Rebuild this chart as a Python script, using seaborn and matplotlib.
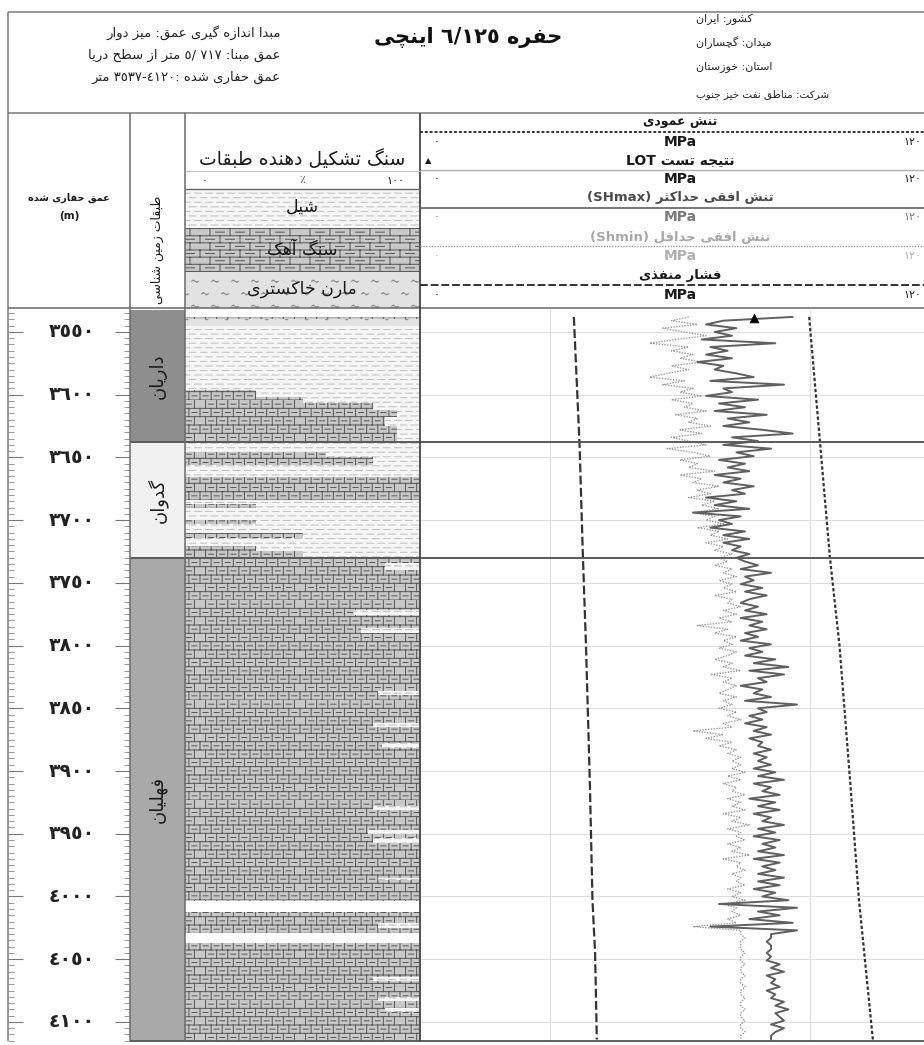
import re
import numpy as np
import matplotlib
matplotlib.use('Agg')
import matplotlib.pyplot as plt
import matplotlib.hatch as mhatch
import matplotlib.transforms as mtrans
from matplotlib.path import Path
from matplotlib.patches import Rectangle
from matplotlib.ticker import MultipleLocator
import seaborn as sns

# ---------------------------------------------------------------- data
depth_ticks = [3550, 3600, 3650, 3700, 3750, 3800, 3850, 3900, 3950, 4000, 4050, 4100]
depth_tick_labels = ['٣٥٥٠', '٣٦٠٠', '٣٦٥٠', '٣٧٠٠', '٣٧٥٠', '٣٨٠٠',
                     '٣٨٥٠', '٣٩٠٠', '٣٩٥٠', '٤٠٠٠', '٤٠٥٠', '٤١٠٠']
depth_top, depth_base = 3532.5, 4115.2

form_names = ['داریان', 'گدوان', 'فهلیان']
form_top = [3532.5, 3638, 3730]
form_base = [3638, 3730, 4115.2]
form_colors = ['#8e8e8e', '#f1f1f1', '#a9a9a9']

# lithology intervals: top, base, limestone %, shale %, marl %
lith_top = [3538, 3540, 3545, 3596, 3602, 3607, 3612, 3618, 3625,
            3638, 3646, 3650, 3656, 3666, 3684, 3687, 3690, 3700, 3703, 3710, 3714, 3721, 3725,
            3729, 3734, 3740, 3772, 3776, 3786, 3790, 3836, 3839, 3862, 3865, 3878, 3882,
            3928, 3931, 3947, 3950, 3953, 3957, 3985, 3987, 4012, 4021, 4025, 4037,
            4064, 4067, 4080, 4083, 4089, 4092]
lith_base = [3540, 3545, 3596, 3602, 3607, 3612, 3618, 3625, 3638,
             3646, 3650, 3656, 3666, 3684, 3687, 3690, 3700, 3703, 3710, 3714, 3721, 3725, 3729,
             3734, 3740, 3772, 3776, 3786, 3790, 3836, 3839, 3862, 3865, 3878, 3882, 3928,
             3931, 3947, 3950, 3953, 3957, 3985, 3987, 4004, 4021, 4025, 4029, 4064,
             4067, 4080, 4083, 4089, 4092, 4115.2]
lime_pct = [100, 0, 0, 30, 50, 80, 90, 85, 90,
            0, 60, 80, 0, 100, 0, 30, 0, 30, 0, 50, 0, 30, 50,
            100, 85, 100, 72, 100, 75, 100, 82, 100, 80, 100, 84, 100,
            80, 100, 78, 100, 80, 100, 82, 100, 100, 82, 100, 100,
            80, 100, 82, 100, 85, 100]
shale_pct = [0, 0, 100, 70, 50, 20, 10, 15, 10,
             100, 40, 20, 100, 0, 100, 70, 100, 70, 100, 50, 100, 70, 50,
             0, 15, 0, 28, 0, 25, 0, 18, 0, 20, 0, 16, 0,
             20, 0, 22, 0, 20, 0, 18, 0, 0, 18, 0, 0,
             20, 0, 18, 0, 15, 0]
marl_pct = [0, 100, 0, 0, 0, 0, 0, 0, 0,
            0, 0, 0, 0, 0, 0, 0, 0, 0, 0, 0, 0, 0, 0,
            0, 0, 0, 0, 0, 0, 0, 0, 0, 0, 0, 0, 0,
            0, 0, 0, 0, 0, 0, 0, 0, 0, 0, 0, 0,
            0, 0, 0, 0, 0, 0]

# stress logs sampled every 3 m from 3538 m
log_depth = np.arange(3538, 4115, 3)
shmax = [86, 70, 66, 73, 68, 72, 65, 82, 67, 71,
         66, 72, 64, 70, 68, 73, 77, 67, 84, 70,
         72, 66, 78, 69, 75, 68, 80, 71, 76, 70,
         79, 86, 72, 78, 70, 81, 73, 77, 69, 75,
         71, 76, 68, 74, 70, 77, 72, 75, 66, 73,
         68, 76, 63, 74, 69, 72, 67, 75, 70, 76,
         70, 74, 72, 76, 73, 75, 78, 74, 81, 75,
         77, 74, 79, 75, 80, 76, 74, 78, 75, 80,
         74, 79, 76, 80, 75, 78, 74, 81, 76, 79,
         75, 82, 77, 85, 76, 84, 78, 80, 74, 79,
         77, 81, 75, 87, 78, 80, 76, 79, 75, 80,
         77, 81, 76, 79, 78, 81, 77, 80, 78, 81,
         77, 82, 78, 84, 77, 81, 79, 83, 76, 82,
         78, 83, 77, 81, 79, 84, 78, 82, 77, 83,
         79, 82, 78, 84, 77, 83, 79, 82, 78, 84,
         78, 83, 77, 82, 79, 85, 69, 87, 78, 83,
         76, 86, 67, 87, 81, 81, 80, 81, 81, 80,
         81, 80, 83, 81, 84, 80, 82, 81, 83, 80,
         82, 81, 84, 82, 85, 82, 83, 84, 81, 84,
         82, 81, 81]
shmin = [62, 58, 64, 56, 61, 66, 59, 53, 62, 58,
         63, 60, 65, 58, 62, 57, 53, 61, 56, 63,
         60, 65, 58, 63, 61, 66, 59, 64, 62, 67,
         60, 65, 58, 62, 66, 57, 63, 67, 60, 64,
         62, 68, 60, 65, 63, 69, 64, 67, 62, 68,
         65, 69, 63, 68, 66, 70, 64, 69, 67, 71,
         66, 70, 68, 72, 69, 71, 68, 72, 70, 73,
         69, 72, 70, 73, 68, 72, 71, 74, 70, 73,
         69, 72, 64, 71, 68, 73, 70, 72, 69, 73,
         71, 68, 72, 70, 74, 67, 72, 70, 73, 71,
         69, 73, 70, 72, 69, 73, 71, 74, 70, 72,
         63, 70, 66, 72, 69, 73, 71, 74, 72, 74,
         72, 75, 71, 74, 70, 73, 72, 75, 71, 74,
         72, 75, 70, 74, 72, 76, 71, 74, 73, 75,
         71, 74, 72, 76, 70, 74, 73, 75, 72, 74,
         73, 75, 71, 74, 72, 75, 70, 73, 72, 74,
         71, 73, 63, 74, 74, 75, 74, 74, 74, 75,
         74, 74, 75, 74, 74, 75, 74, 74, 75, 74,
         74, 75, 74, 74, 75, 74, 74, 75, 74, 74,
         75, 74, 74]

sv_depth = [3538, 3638, 3730, 3800, 3910, 4003, 4114]
sv_value = [89.8, 92.3, 94.6, 96.8, 99.3, 101.3, 104.5]
pp_depth = [3538, 3638, 3730, 3800, 3910, 4003, 4045, 4114]
pp_value = [35.5, 36.8, 37.6, 38.3, 39.2, 39.8, 40.4, 40.8]
lot_depth = [3538.5]
lot_value = [77]

# ---------------------------------------------------------------- Persian text shaping
_F = {
    'ء': ('\uFE80', None, None, None), 'آ': ('\uFE81', '\uFE82', None, None),
    'أ': ('\uFE83', '\uFE84', None, None), 'ؤ': ('\uFE85', '\uFE86', None, None),
    'إ': ('\uFE87', '\uFE88', None, None), 'ئ': ('\uFE89', '\uFE8A', '\uFE8B', '\uFE8C'),
    'ا': ('\uFE8D', '\uFE8E', None, None), 'ب': ('\uFE8F', '\uFE90', '\uFE91', '\uFE92'),
    'ة': ('\uFE93', '\uFE94', None, None), 'ت': ('\uFE95', '\uFE96', '\uFE97', '\uFE98'),
    'ث': ('\uFE99', '\uFE9A', '\uFE9B', '\uFE9C'), 'ج': ('\uFE9D', '\uFE9E', '\uFE9F', '\uFEA0'),
    'ح': ('\uFEA1', '\uFEA2', '\uFEA3', '\uFEA4'), 'خ': ('\uFEA5', '\uFEA6', '\uFEA7', '\uFEA8'),
    'د': ('\uFEA9', '\uFEAA', None, None), 'ذ': ('\uFEAB', '\uFEAC', None, None),
    'ر': ('\uFEAD', '\uFEAE', None, None), 'ز': ('\uFEAF', '\uFEB0', None, None),
    'س': ('\uFEB1', '\uFEB2', '\uFEB3', '\uFEB4'), 'ش': ('\uFEB5', '\uFEB6', '\uFEB7', '\uFEB8'),
    'ص': ('\uFEB9', '\uFEBA', '\uFEBB', '\uFEBC'), 'ض': ('\uFEBD', '\uFEBE', '\uFEBF', '\uFEC0'),
    'ط': ('\uFEC1', '\uFEC2', '\uFEC3', '\uFEC4'), 'ظ': ('\uFEC5', '\uFEC6', '\uFEC7', '\uFEC8'),
    'ع': ('\uFEC9', '\uFECA', '\uFECB', '\uFECC'), 'غ': ('\uFECD', '\uFECE', '\uFECF', '\uFED0'),
    'ف': ('\uFED1', '\uFED2', '\uFED3', '\uFED4'), 'ق': ('\uFED5', '\uFED6', '\uFED7', '\uFED8'),
    'ك': ('\uFED9', '\uFEDA', '\uFEDB', '\uFEDC'), 'ل': ('\uFEDD', '\uFEDE', '\uFEDF', '\uFEE0'),
    'م': ('\uFEE1', '\uFEE2', '\uFEE3', '\uFEE4'), 'ن': ('\uFEE5', '\uFEE6', '\uFEE7', '\uFEE8'),
    'ه': ('\uFEE9', '\uFEEA', '\uFEEB', '\uFEEC'), 'و': ('\uFEED', '\uFEEE', None, None),
    'ى': ('\uFEEF', '\uFEF0', None, None), 'ي': ('\uFEF1', '\uFEF2', '\uFEF3', '\uFEF4'),
    'پ': ('\uFB56', '\uFB57', '\uFB58', '\uFB59'), 'چ': ('\uFB7A', '\uFB7B', '\uFB7C', '\uFB7D'),
    'ژ': ('\uFB8A', '\uFB8B', None, None), 'ک': ('\uFB8E', '\uFB8F', '\uFB90', '\uFB91'),
    'گ': ('\uFB92', '\uFB93', '\uFB94', '\uFB95'), 'ی': ('\uFBFC', '\uFBFD', '\uFBFE', '\uFBFF'),
}
_LAMALEF = {'ا': ('\uFEFB', '\uFEFC'), 'آ': ('\uFEF5', '\uFEF6'),
            'أ': ('\uFEF7', '\uFEF8'), 'إ': ('\uFEF9', '\uFEFA')}
_MIRROR = str.maketrans({'(': ')', ')': '(', '[': ']', ']': '['})
_LTR = re.compile(r'([0-9\u0660-\u0669\u06F0-\u06F9A-Za-z]'
                  r'(?:[0-9\u0660-\u0669\u06F0-\u06F9A-Za-z/.\-\s]*[0-9\u0660-\u0669\u06F0-\u06F9A-Za-z])?)')


def _dual(c):
    return c in _F and _F[c][2] is not None


def _shape(s):
    out, i, n = [], 0, len(s)
    while i < n:
        c = s[i]
        if c not in _F:
            out.append(c)
            i += 1
            continue
        pc = i > 0 and _dual(s[i - 1])
        if c == 'ل' and i + 1 < n and s[i + 1] in _LAMALEF:
            iso, fin = _LAMALEF[s[i + 1]]
            out.append(fin if pc else iso)
            i += 2
            continue
        nc = _dual(c) and i + 1 < n and s[i + 1] in _F
        iso, fin, ini, med = _F[c]
        if pc and nc:
            out.append(med)
        elif pc:
            out.append(fin or iso)
        elif nc:
            out.append(ini)
        else:
            out.append(iso)
        i += 1
    return ''.join(out)


def fa(s):
    parts = _LTR.split(_shape(s))
    vis = [p if k % 2 else p[::-1].translate(_MIRROR) for k, p in enumerate(parts)]
    return ''.join(vis[::-1])


# ---------------------------------------------------------------- custom hatches
class _Pattern(mhatch.HatchPatternBase):
    key = None

    def __init__(self, hatch, density):
        self.polys = self.build() if (hatch and self.key in hatch) else []
        self.num_vertices = sum(len(p) for p in self.polys)

    def set_vertices_and_codes(self, vertices, codes):
        i = 0
        for p in self.polys:
            n = len(p)
            vertices[i:i + n] = p
            codes[i] = Path.MOVETO
            codes[i + 1:i + n] = Path.LINETO
            i += n


def _brick(ncol, nrow, dash):
    polys = []
    h, w = 1.0 / nrow, 1.0 / ncol
    for r in range(nrow):
        y0 = r * h
        polys.append([(0, y0), (1, y0)])
        off = 0.5 * w * (r % 2)
        for c in range(ncol + 1):
            x = c * w + off
            if x <= 1.0:
                polys.append([(x, y0), (x, y0 + h)])
        for c in range(-1, ncol + 1):
            xc = c * w + off + w / 2
            a, b = xc - dash * w / 2, xc + dash * w / 2
            if a > 0 and b < 1:
                polys.append([(a, y0 + h / 2), (b, y0 + h / 2)])
    return polys


def _dashes(nrow, ncol, frac):
    polys = []
    for r in range(nrow):
        y = (r + 0.5) / nrow
        off = 0.5 / ncol * (r % 2)
        for c in range(-1, ncol + 1):
            a = c / ncol + off
            b = a + frac / ncol
            a, b = max(a, 0), min(b, 1)
            if b > a:
                polys.append([(a, y), (b, y)])
    return polys


def _tildes(nrow, ncol, width, amp):
    polys = []
    for r in range(nrow):
        y = (r + 0.5) / nrow
        off = (0.25 if r % 2 == 0 else 0.75) / ncol
        for c in range(ncol):
            xc = c / ncol + off
            xs = xc + width * np.array([-0.5, -0.25, 0, 0.25, 0.5])
            ys = y + amp * np.array([0, 1, 0, -1, 0])
            polys.append(list(zip(xs, ys)))
    return polys


class BrickHatch(_Pattern):
    key = 'B'
    def build(self):
        return _brick(9, 12, 0.45)


class WideBrickHatch(_Pattern):
    key = 'W'
    def build(self):
        return _brick(5, 14, 0.45)


class ShaleHatch(_Pattern):
    key = 'S'
    def build(self):
        return _dashes(22, 9, 0.62)


class MarlHatch(_Pattern):
    key = 'M'
    def build(self):
        return _tildes(8, 5, 0.07, 0.012)


mhatch._hatch_types.extend([BrickHatch, WideBrickHatch, ShaleHatch, MarlHatch])
mhatch._validate_hatch_pattern = lambda hatch: None

# ---------------------------------------------------------------- style
sns.set_theme(style='white')
plt.rcParams['font.family'] = ['DejaVu Sans']
plt.rcParams['hatch.linewidth'] = 0.7
plt.rcParams['axes.unicode_minus'] = False

LIME_BG, LIME_LN = '#c8c8c8', '#555555'
SHALE_BG, SHALE_LN = '#f6f6f6', '#bdbdbd'
MARL_BG, MARL_LN = '#e2e2e2', '#8a8a8a'
FRAME = '#7a7a7a'

W, H = 924, 1045
fig = plt.figure(figsize=(W / 100, H / 100), dpi=100)
fig.patch.set_facecolor('white')


def add_ax(x0, y0, x1, y1):
    return fig.add_axes([x0 / W, 1 - y1 / H, (x1 - x0) / W, (y1 - y0) / H])


Y0, Y1 = 310, 1041
ax_depth = add_ax(8, Y0, 130, Y1)
ax_form = add_ax(130, Y0, 185, Y1)
ax_lith = add_ax(185, Y0, 420, Y1)
ax_log = add_ax(420, Y0, 924, Y1)

for ax in (ax_depth, ax_form, ax_lith, ax_log):
    ax.set_ylim(depth_base, depth_top)
    for sp in ax.spines.values():
        sp.set_visible(False)
    ax.set_facecolor('none')

# depth column
ax_depth.set_xlim(0, 1)
ax_depth.set_yticks(depth_ticks)
ax_depth.yaxis.set_minor_locator(MultipleLocator(5))
ax_depth.set_xticks([])
ax_depth.tick_params(axis='y', which='major', direction='in', length=11, width=0.8,
                     color='#777777', left=True, right=True, labelleft=False, labelright=False)
ax_depth.tick_params(axis='y', which='minor', direction='in', length=4.5, width=0.6,
                     color='#888888', left=True, right=True)
blend = mtrans.blended_transform_factory(ax_depth.transAxes, ax_depth.transData)
for d, lab in zip(depth_ticks, depth_tick_labels):
    ax_depth.text(0.52, d, lab, transform=blend, ha='center', va='center',
                  fontsize=13.5, fontweight='bold', color='#222222')

# formation column
ax_form.set_xlim(0, 1)
ax_form.barh(form_top, width=1, height=np.subtract(form_base, form_top), left=0,
             align='edge', color=form_colors, linewidth=0)
fblend = mtrans.blended_transform_factory(ax_form.transAxes, ax_form.transData)
for name, t0, t1 in zip(form_names, form_top, form_base):
    ax_form.text(0.5, (t0 + t1) / 2, fa(name), rotation=90, ha='center', va='center',
                 fontsize=13, color='#1a1a1a', transform=fblend)
ax_form.set_xticks([])
ax_form.set_yticks([])

# lithology column
ax_lith.set_xlim(0, 100)
thick = np.subtract(lith_base, lith_top)
ax_lith.barh(lith_top, width=lime_pct, height=thick, left=0, align='edge',
             color=LIME_BG, edgecolor=LIME_LN, hatch='B', linewidth=0)
ax_lith.barh(lith_top, width=shale_pct, height=thick, left=lime_pct, align='edge',
             color=SHALE_BG, edgecolor=SHALE_LN, hatch='S', linewidth=0)
ax_lith.barh(lith_top, width=marl_pct, height=thick, left=np.add(lime_pct, shale_pct),
             align='edge', color=MARL_BG, edgecolor=MARL_LN, hatch='M', linewidth=0)
ax_lith.set_xticks([])
ax_lith.set_yticks([])

# stress log track
ax_log.set_xlim(0, 116.3)
ax_log.set_xticks([30, 90])
ax_log.set_yticks(depth_ticks)
ax_log.grid(True, color='#dedede', linewidth=0.8)
ax_log.tick_params(length=0, labelleft=False, labelbottom=False)
sns.lineplot(x=pp_value, y=pp_depth, ax=ax_log, sort=False, orient='y', estimator=None,
             color='#333333', linewidth=1.6, linestyle=(0, (4, 1.5)))
sns.lineplot(x=sv_value, y=sv_depth, ax=ax_log, sort=False, orient='y', estimator=None,
             color='#333333', linewidth=1.6, linestyle=(0, (1.5, 1)))
sns.lineplot(x=shmin, y=log_depth, ax=ax_log, sort=False, orient='y', estimator=None,
             color='#9a9a9a', linewidth=1.0, linestyle=(0, (1, 1)))
sns.lineplot(x=shmax, y=log_depth, ax=ax_log, sort=False, orient='y', estimator=None,
             color='#606060', linewidth=1.4)
sns.scatterplot(x=lot_value, y=lot_depth, ax=ax_log, marker='^', s=40, color='black',
                edgecolor='black', zorder=5)
ax_log.set_xlabel('')
ax_log.set_ylabel('')
ax_log.set_ylim(depth_base, depth_top)
ax_log.set_xlim(0, 116.3)

for ax in (ax_form, ax_lith, ax_log):
    for b in form_base[:-1]:
        ax.axhline(b, color='#5a5a5a', linewidth=1.4, zorder=6)

# ---------------------------------------------------------------- overlay (frames, headers)
ov = add_ax(0, 0, W, H)
ov.set_xlim(0, W)
ov.set_ylim(H, 0)
ov.axis('off')


def ln(x, y, **kw):
    kw.setdefault('color', FRAME)
    kw.setdefault('linewidth', 1.1)
    ov.plot(x, y, solid_capstyle='butt', **kw)


def tx(x, y, s, **kw):
    kw.setdefault('va', 'center')
    kw.setdefault('ha', 'center')
    kw.setdefault('color', '#1a1a1a')
    ov.text(x, y, s, **kw)


# frame
ln([8, 924], [12, 12])
ln([8, 8], [12, Y1])
ln([8, 924], [113, 113])
ln([8, 924], [308, 308], color='#666666')
ln([130, 924], [Y1, Y1], color='#555555', linewidth=1.3)
for x in (130, 185):
    ln([x, x], [113, Y1], color='#6a6a6a')
ln([420, 420], [113, Y1], color='#444444', linewidth=1.3)

# top header texts
tx(281, 33, fa('مبدا اندازه گیری عمق: میز دوار'), ha='right', fontsize=9.5, color='#222222')
tx(281, 55, fa('عمق مبنا: ٥/ ٧١٧ متر از سطح دریا'), ha='right', fontsize=9.5, color='#222222')
tx(281, 77, fa('عمق حفاری شده :٣٥٣٧-٤١٢٠ متر'), ha='right', fontsize=9.5, color='#222222')
tx(468, 37, fa('حفره ٦/١٢٥ اینچی'), fontsize=15, fontweight='bold', color='#111111')
tx(696, 19, fa('کشور: ایران'), ha='left', fontsize=8, color='#222222')
tx(696, 43, fa('میدان: گچساران'), ha='left', fontsize=8, color='#222222')
tx(696, 67, fa('استان: خوزستان'), ha='left', fontsize=8, color='#222222')
tx(696, 94, fa('شرکت: مناطق نفت خیز جنوب'), ha='left', fontsize=7.5, color='#222222')

# depth / formation headers
tx(69, 198, fa('عمق حفاری شده'), fontsize=7, fontweight='bold')
tx(69, 216, '(m)', fontsize=7.5, fontweight='bold')
tx(157, 250, fa('طبقات زمین شناسی'), rotation=90, fontsize=9)

# lithology header
tx(302, 159, fa('سنگ تشکیل دهنده طبقات'), fontsize=13.5)
ln([185, 420], [171, 171], color='#c4c4c4', linewidth=0.8)
tx(205, 181, '٠', fontsize=8)
tx(302, 180, '٪', fontsize=8, color='#555555')
tx(404, 181, '١٠٠', ha='right', fontsize=8)
ov.add_patch(Rectangle((185, 189), 235, 39, facecolor=SHALE_BG, edgecolor=SHALE_LN,
                       hatch='S', linewidth=0))
ov.add_patch(Rectangle((185, 228), 235, 44, facecolor=LIME_BG, edgecolor=LIME_LN,
                       hatch='W', linewidth=0))
ov.add_patch(Rectangle((185, 272), 235, 36, facecolor=MARL_BG, edgecolor=MARL_LN,
                       hatch='M', linewidth=0))
ln([185, 420], [189, 189], color='#666666', linewidth=1.0)
tx(302, 207, fa('شیل'), fontsize=12.5)
tx(302, 250, fa('سنگ آهک'), fontsize=12.5)
tx(302, 289, fa('مارن خاکستری'), fontsize=12.5)

# stress track header
XC = 680


def scale_row(y, color, weight='bold'):
    tx(437, y, '٠', fontsize=8, color=color)
    tx(XC, y, 'MPa', fontsize=10, fontweight=weight, color=color)
    tx(921, y, '١٢٠', ha='right', fontsize=8, color=color)


tx(XC, 122, fa('تنش عمودی'), fontsize=9, fontweight='bold')
ln([420, 924], [132, 132], color='#333333', linewidth=1.4, linestyle=(0, (1.5, 1)))
scale_row(142, '#1a1a1a')
tx(428, 161, '▲', fontsize=6)
tx(XC, 161, fa('نتیجه تست LOT'), fontsize=10, fontweight='bold')
ln([420, 924], [170, 170], color='#b0b0b0', linewidth=1.0)
scale_row(179, '#1a1a1a')
tx(XC, 198, fa('تنش افقی حداکثر (SHmax)'), fontsize=9.5, fontweight='bold', color='#4a4a4a')
ln([420, 924], [208, 208], color='#606060', linewidth=1.2)
scale_row(217, '#7a7a7a')
tx(XC, 237, fa('تنش افقی حداقل (Shmin)'), fontsize=9.5, fontweight='bold', color='#a8a8a8')
ln([420, 924], [246, 246], color='#9a9a9a', linewidth=1.0, linestyle=(0, (1, 1)))
scale_row(256, '#b0b0b0')
tx(XC, 276, fa('فشار منفذی'), fontsize=9.5, fontweight='bold')
ln([420, 924], [285, 285], color='#333333', linewidth=1.4, linestyle=(0, (4, 1.5)))
scale_row(295, '#1a1a1a')

fig.savefig('out.png', dpi=100)
